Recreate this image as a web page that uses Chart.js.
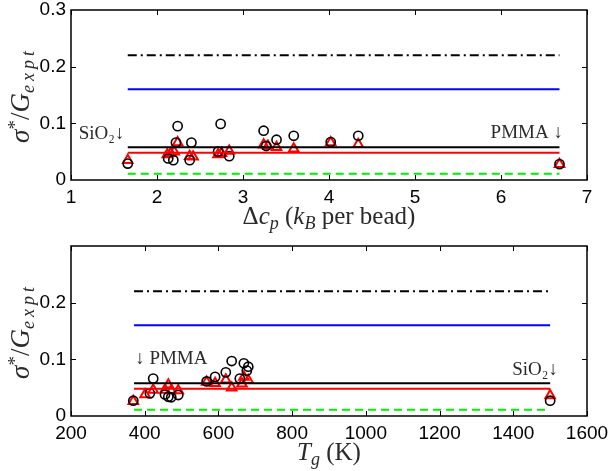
<!DOCTYPE html>
<html>
<head>
<meta charset="utf-8">
<script src="https://cdn.jsdelivr.net/npm/chart.js@4.4.1/dist/chart.umd.min.js"></script>
<style>
  html, body { margin: 0; padding: 0; background: #fff; }
  .panel { position: absolute; left: 0; width: 611px; }
  #top { top: 0; height: 236px; }
  #bot { top: 236px; height: 235px; }
</style>
</head>
<body>
<div class="panel" id="top"><canvas id="c1"></canvas></div>
<div class="panel" id="bot"><canvas id="c2"></canvas></div>
<script>
// reference levels (same in both panels)
const levelDashDot = 0.22;
const levelBlue = 0.16;
const levelBlack = 0.058;
const levelRed = 0.048;
const levelGreen = 0.011;

// top panel: delta c_p
const dcpSpan = [1.66, 6.68];
const dcpTicks = [1, 2, 3, 4, 5, 6, 7];
const dcpCircX = [1.66, 2.13, 2.19, 2.22, 2.24, 2.38, 2.40, 2.71, 2.74, 2.84, 3.24, 3.27, 3.39, 3.59, 4.02, 4.34, 6.68];
const dcpCircY = [0.029, 0.038, 0.035, 0.066, 0.095, 0.035, 0.066, 0.050, 0.099, 0.042, 0.087, 0.060, 0.071, 0.078, 0.067, 0.078, 0.028];
const dcpTriX = [1.66, 2.12, 2.16, 2.20, 2.24, 2.38, 2.42, 2.71, 2.75, 2.84, 3.24, 3.29, 3.39, 3.59, 4.02, 4.34, 6.68];
const dcpTriY = [0.035, 0.045, 0.047, 0.050, 0.066, 0.042, 0.041, 0.045, 0.047, 0.051, 0.062, 0.060, 0.058, 0.055, 0.066, 0.063, 0.028];

// bottom panel: T_g
const tgSpan = [371, 1500];
const tgTicks = [200, 400, 600, 800, 1000, 1200, 1400, 1600];
const tgCircX = [369, 414, 423, 455, 464, 472, 491, 568, 591, 620, 636, 658, 669, 677, 681, 1500];
const tgCircY = [0.027, 0.040, 0.066, 0.038, 0.034, 0.033, 0.037, 0.061, 0.069, 0.077, 0.097, 0.066, 0.093, 0.080, 0.087, 0.027];
const tgTriX = [369, 401, 423, 455, 464, 472, 491, 568, 591, 620, 636, 664, 669, 681, 1500];
const tgTriY = [0.026, 0.038, 0.046, 0.046, 0.055, 0.045, 0.045, 0.060, 0.058, 0.064, 0.050, 0.057, 0.069, 0.063, 0.036];

const serif = '"Liberation Serif", "DejaVu Serif", serif';
const sans = '"Liberation Sans", Arial, sans-serif';
const textColor = '#2a2a2a';

function pts(xs, ys) {
    return xs.map((x, i) => ({ x: x, y: ys[i] }));
}

function level(span, v) {
    return [{ x: span[0], y: v }, { x: span[1], y: v }];
}

// draws a run of text pieces: [text, kind, size, spacing]; kind: n, i, subi, sup
function drawRich(ctx, parts, cx, cy, rot) {
    const fontOf = p => ((p[1] === 'i' || p[1] === 'subi') ? 'italic ' : '') + p[2] + 'px ' + serif;
    const widths = [];
    let total = 0;
    parts.forEach(p => {
        ctx.font = fontOf(p);
        const sp = p[3] || 0;
        let w = 0;
        for (const ch of p[0]) w += ctx.measureText(ch).width + sp;
        widths.push(w);
        total += w;
    });
    ctx.save();
    ctx.translate(cx, cy);
    ctx.rotate(rot);
    ctx.fillStyle = textColor;
    ctx.textBaseline = 'alphabetic';
    ctx.textAlign = 'left';
    let x = -total / 2;
    parts.forEach((p, k) => {
        ctx.font = fontOf(p);
        let dy = 7;
        if (p[1] === 'subi') dy = 12;
        if (p[1] === 'sup') dy = -1;
        const sp = p[3] || 0;
        let xx = x;
        for (const ch of p[0]) {
            ctx.fillText(ch, xx, dy);
            xx += ctx.measureText(ch).width + sp;
        }
        x += widths[k];
    });
    ctx.restore();
}

const frame = {
    id: 'frame',
    afterDraw(chart, args, opts) {
        const ctx = chart.ctx;
        const a = chart.chartArea;
        const xs = chart.scales.x, ys = chart.scales.y;
        ctx.save();
        ctx.setLineDash([]);
        ctx.strokeStyle = '#000';
        ctx.lineWidth = 1.5;
        ctx.strokeRect(a.left, a.top, a.right - a.left, a.bottom - a.top);
        ctx.lineWidth = 1;
        ctx.beginPath();
        opts.xTicks.forEach(t => {
            const px = Math.round(xs.getPixelForValue(t)) + 0.5;
            ctx.moveTo(px, a.bottom); ctx.lineTo(px, a.bottom - 5);
            ctx.moveTo(px, a.top); ctx.lineTo(px, a.top + 5);
        });
        [0.1, 0.2].forEach(t => {
            const py = Math.round(ys.getPixelForValue(t)) + 0.5;
            ctx.moveTo(a.left, py); ctx.lineTo(a.left + 5, py);
            ctx.moveTo(a.right, py); ctx.lineTo(a.right - 5, py);
        });
        ctx.stroke();

        // annotations placed in data coordinates
        ctx.fillStyle = textColor;
        ctx.font = '19px ' + serif;
        ctx.textBaseline = 'middle';
        opts.notes.forEach(n => {
            ctx.textAlign = n.align;
            ctx.fillText(n.text, xs.getPixelForValue(n.x), ys.getPixelForValue(n.y));
        });

        // axis titles
        const midY = (a.top + a.bottom) / 2;
        const midX = (a.left + a.right) / 2;
        drawRich(ctx, [['σ', 'i', 27], ['*', 'sup', 19], ['/', 'n', 27], ['G', 'i', 27], ['expt', 'subi', 18, 4]], 22, midY, -Math.PI / 2);
        drawRich(ctx, opts.xTitle, midX, a.bottom + 37, 0);
        ctx.restore();
    }
};

function makeChart(id, span, ticks, cx, cy, tx, ty, yTicks, xTitle, notes) {
    const lineSet = (v, color, dash, w) => ({
        type: 'line',
        data: level(span, v),
        borderColor: color,
        borderWidth: w,
        borderDash: dash,
        pointRadius: 0,
        fill: false
    });
    return new Chart(document.getElementById(id), {
        type: 'scatter',
        data: {
            datasets: [
                lineSet(levelDashDot, '#000', [9, 4, 2, 4], 2),
                lineSet(levelBlue, '#0000ff', [], 2),
                lineSet(levelBlack, '#000', [], 2),
                lineSet(levelRed, '#ff0000', [], 2),
                lineSet(levelGreen, '#00ee00', [8, 5], 2),
                {
                    data: pts(cx, cy),
                    pointStyle: 'circle',
                    pointRadius: 4.6,
                    borderColor: '#000',
                    backgroundColor: 'rgba(0,0,0,0)',
                    borderWidth: 1.6
                },
                {
                    data: pts(tx, ty),
                    pointStyle: 'triangle',
                    pointRadius: 5.5,
                    borderColor: '#ff0000',
                    backgroundColor: 'rgba(0,0,0,0)',
                    borderWidth: 2
                }
            ]
        },
        options: {
            responsive: true,
            maintainAspectRatio: false,
            animation: false,
            layout: { padding: { top: 10, right: 24, left: 0, bottom: 0 } },
            plugins: {
                legend: { display: false },
                tooltip: { enabled: false },
                frame: { xTicks: ticks, xTitle: xTitle, notes: notes }
            },
            scales: {
                x: {
                    type: 'linear',
                    min: ticks[0],
                    max: ticks[ticks.length - 1],
                    grid: { display: false, drawTicks: false },
                    border: { display: false },
                    afterBuildTicks: axis => { axis.ticks = ticks.map(v => ({ value: v })); },
                    afterFit: axis => {
                        axis.height = id === 'c1' ? 56 : 55;
                        axis.paddingLeft = 0;
                        axis.paddingRight = 0;
                    },
                    ticks: {
                        color: '#000',
                        font: { family: sans, size: 19, lineHeight: 1 },
                        padding: 8,
                        maxRotation: 0,
                        callback: v => String(v)
                    }
                },
                y: {
                    min: 0,
                    max: 0.3,
                    grid: { display: false, drawTicks: false },
                    border: { display: false },
                    afterBuildTicks: axis => { axis.ticks = yTicks.map(v => ({ value: v })); },
                    afterFit: axis => {
                        axis.width = 71;
                        axis.paddingTop = 0;
                        axis.paddingBottom = 0;
                    },
                    ticks: {
                        color: '#000',
                        font: { family: sans, size: 19, lineHeight: 1 },
                        padding: 5,
                        callback: v => (v === 0 ? '0' : v.toFixed(1))
                    }
                }
            }
        },
        plugins: [frame]
    });
}

makeChart('c1', dcpSpan, dcpTicks, dcpCircX, dcpCircY, dcpTriX, dcpTriY, [0, 0.1, 0.2, 0.3],
    [['Δ', 'n', 25], ['c', 'i', 25], ['p', 'subi', 18], [' (', 'n', 25], ['k', 'i', 25], ['B', 'subi', 18], [' per bead)', 'n', 25]],
    [
        { text: 'SiO₂↓', x: 1.09, y: 0.081, align: 'left' },
        { text: 'PMMA ↓', x: 6.72, y: 0.083, align: 'right' }
    ]);

makeChart('c2', tgSpan, tgTicks, tgCircX, tgCircY, tgTriX, tgTriY, [0, 0.1, 0.2],
    [['T', 'i', 25], ['g', 'subi', 18], [' (K)', 'n', 25]],
    [
        { text: '↓ PMMA', x: 374, y: 0.100, align: 'left' },
        { text: 'SiO₂↓', x: 1521, y: 0.081, align: 'right' }
    ]);
</script>
</body>
</html>
